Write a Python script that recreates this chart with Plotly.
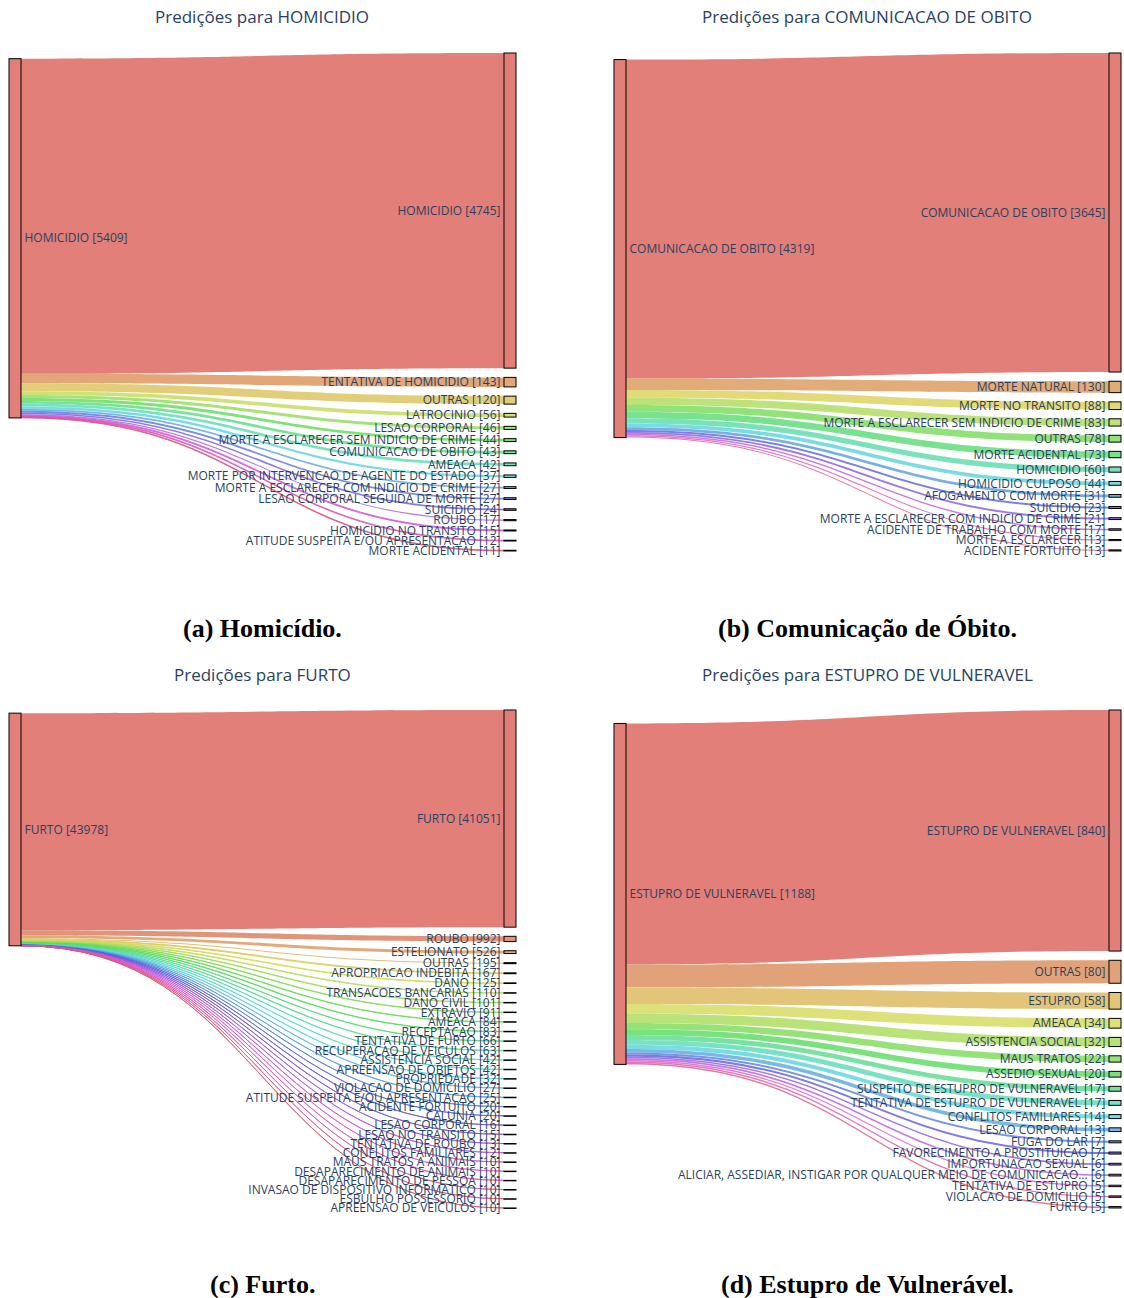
import colorsys
import plotly.graph_objects as go

# ---- (a) HOMICIDIO ----
hom_source = "HOMICIDIO"
hom_total = 5409
hom_labels = [
    "HOMICIDIO", "TENTATIVA DE HOMICIDIO", "OUTRAS", "LATROCINIO", "LESAO CORPORAL",
    "MORTE A ESCLARECER SEM INDICIO DE CRIME", "COMUNICACAO DE OBITO", "AMEACA",
    "MORTE POR INTERVENCAO DE AGENTE DO ESTADO", "MORTE A ESCLARECER COM INDICIO DE CRIME",
    "LESAO CORPORAL SEGUIDA DE MORTE", "SUICIDIO", "ROUBO", "HOMICIDIO NO TRANSITO",
    "ATITUDE SUSPEITA E/OU APRESENTACAO", "MORTE ACIDENTAL",
]
hom_values = [4745, 143, 120, 56, 46, 44, 43, 42, 37, 27, 27, 24, 17, 15, 12, 11]

# ---- (b) COMUNICACAO DE OBITO ----
obi_source = "COMUNICACAO DE OBITO"
obi_total = 4319
obi_labels = [
    "COMUNICACAO DE OBITO", "MORTE NATURAL", "MORTE NO TRANSITO",
    "MORTE A ESCLARECER SEM INDICIO DE CRIME", "OUTRAS", "MORTE ACIDENTAL", "HOMICIDIO",
    "HOMICIDIO CULPOSO", "AFOGAMENTO COM MORTE", "SUICIDIO",
    "MORTE A ESCLARECER COM INDICIO DE CRIME", "ACIDENTE DE TRABALHO COM MORTE",
    "MORTE A ESCLARECER", "ACIDENTE FORTUITO",
]
obi_values = [3645, 130, 88, 83, 78, 73, 60, 44, 31, 23, 21, 17, 13, 13]

# ---- (c) FURTO ----
fur_source = "FURTO"
fur_total = 43978
fur_labels = [
    "FURTO", "ROUBO", "ESTELIONATO", "OUTRAS", "APROPRIACAO INDEBITA", "DANO",
    "TRANSACOES BANCARIAS", "DANO CIVIL", "EXTRAVIO", "AMEACA", "RECEPTACAO",
    "TENTATIVA DE FURTO", "RECUPERACAO DE VEICULOS", "ASSISTENCIA SOCIAL",
    "APREENSAO DE OBJETOS", "PROPRIEDADE", "VIOLACAO DE DOMICILIO",
    "ATITUDE SUSPEITA E/OU APRESENTACAO", "ACIDENTE FORTUITO", "CALUNIA",
    "LESAO CORPORAL", "LESAO NO TRANSITO", "TENTATIVA DE ROUBO", "CONFLITOS FAMILIARES",
    "MAUS TRATOS A ANIMAIS", "DESAPARECIMENTO DE ANIMAIS", "DESAPARECIMENTO DE PESSOA",
    "INVASAO DE DISPOSITIVO INFORMATICO", "ESBULHO POSSESSORIO", "APREENSAO DE VEICULOS",
]
fur_values = [41051, 992, 526, 195, 167, 125, 110, 101, 91, 84, 83, 66, 63, 42, 42, 32,
              27, 25, 20, 20, 16, 15, 13, 12, 10, 10, 10, 10, 10, 10]

# ---- (d) ESTUPRO DE VULNERAVEL ----
est_source = "ESTUPRO DE VULNERAVEL"
est_total = 1188
est_labels = [
    "ESTUPRO DE VULNERAVEL", "OUTRAS", "ESTUPRO", "AMEACA", "ASSISTENCIA SOCIAL",
    "MAUS TRATOS", "ASSEDIO SEXUAL", "SUSPEITO DE ESTUPRO DE VULNERAVEL",
    "TENTATIVA DE ESTUPRO DE VULNERAVEL", "CONFLITOS FAMILIARES", "LESAO CORPORAL",
    "FUGA DO LAR", "FAVORECIMENTO A PROSTITUICAO", "IMPORTUNACAO SEXUAL",
    "ALICIAR, ASSEDIAR, INSTIGAR POR QUALQUER MEIO DE COMUNICACAO...",
    "TENTATIVA DE ESTUPRO", "VIOLACAO DE DOMICILIO", "FURTO",
]
est_values = [840, 80, 58, 34, 32, 22, 20, 17, 17, 14, 13, 7, 7, 6, 6, 5, 5, 5]

W, H = 1124, 1298
TITLE_COLOR = "#2a3f5f"


def hls_palette(n, h=0.01, l=0.6, s=0.65):
    hues = [(h + i / n) % 1 for i in range(n)]
    return [colorsys.hls_to_rgb(hh, l, s) for hh in hues]


def rgba(c, a):
    r, g, b = (int(round(v * 255)) for v in c)
    return f"rgba({r},{g},{b},{a})"


def px_domain(x0, x1, y0, y1):
    return dict(x=[x0 / W, x1 / W], y=[1 - y1 / H, 1 - y0 / H])


def make_sankey(src, total, labels, values, dom, pad):
    pal = hls_palette(len(labels))
    node_labels = [f"{src} [{total}]"] + [f"{l} [{v}]" for l, v in zip(labels, values)]
    node_colors = [rgba(pal[0], 0.8)] + [rgba(c, 0.8) for c in pal]
    link_colors = [rgba(c, 0.8) for c in pal]
    return go.Sankey(
        domain=dom,
        arrangement="snap",
        node=dict(
            label=node_labels,
            color=node_colors,
            pad=pad,
            thickness=12,
            line=dict(color="black", width=1),
        ),
        link=dict(
            source=[0] * len(labels),
            target=list(range(1, len(labels) + 1)),
            value=values,
            color=link_colors,
        ),
        textfont=dict(family="Open Sans", size=12, color=TITLE_COLOR, shadow="none"),
    )


fig = go.Figure()
fig.add_trace(make_sankey(hom_source, hom_total, hom_labels, hom_values,
                          px_domain(9, 516, 53, 551), 9.25))
fig.add_trace(make_sankey(obi_source, obi_total, obi_labels, obi_values,
                          px_domain(614, 1121, 53, 551), 9.23))
fig.add_trace(make_sankey(fur_source, fur_total, fur_labels, fur_values,
                          px_domain(9, 516, 710, 1208), 9.15))
fig.add_trace(make_sankey(est_source, est_total, est_labels, est_values,
                          px_domain(614, 1121, 710, 1208), 9.24))

titles = [
    ("Predições para HOMICIDIO", 262, 17),
    ("Predições para COMUNICACAO DE OBITO", 867, 17),
    ("Predições para FURTO", 262, 674),
    ("Predições para ESTUPRO DE VULNERAVEL", 867, 674),
]
captions = [
    ("(a) Homicídio.", 262, 628),
    ("(b) Comunicação de Óbito.", 867, 628),
    ("(c) Furto.", 262, 1284),
    ("(d) Estupro de Vulnerável.", 867, 1284),
]

annotations = []
for text, x, y in titles:
    annotations.append(dict(
        text=text, x=x / W, y=1 - y / H, xref="paper", yref="paper",
        xanchor="center", yanchor="middle", showarrow=False,
        font=dict(family="Open Sans", size=17, color=TITLE_COLOR),
    ))
for text, x, y in captions:
    annotations.append(dict(
        text=f"<b>{text}</b>", x=x / W, y=1 - y / H, xref="paper", yref="paper",
        xanchor="center", yanchor="middle", showarrow=False,
        font=dict(family="Liberation Serif", size=26, color="black"),
    ))

fig.update_layout(
    width=W, height=H,
    margin=dict(l=0, r=0, t=0, b=0),
    paper_bgcolor="white", plot_bgcolor="white",
    annotations=annotations,
)

fig.write_html("out.html")
